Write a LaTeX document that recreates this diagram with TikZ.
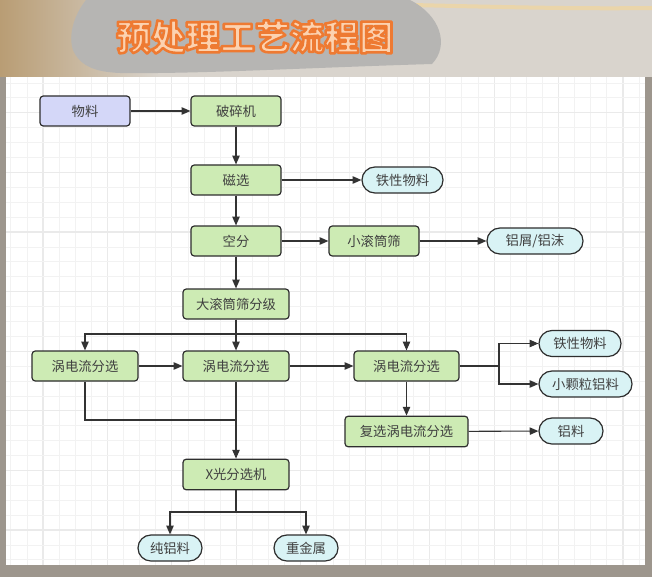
\documentclass[tikz,border=0pt]{standalone}
\usepackage{fontspec}
\setmainfont{Noto Sans CJK SC}
\newfontfamily\cjkf{Noto Sans CJK SC}
\usetikzlibrary{arrows.meta,calc}
\definecolor{bgbrown}{HTML}{9D968D}
\definecolor{bgtop}{HTML}{D9D4CD}
\definecolor{bgleft}{HTML}{B99D74}
\definecolor{brush}{HTML}{B6B5B3}
\definecolor{gminor}{HTML}{F2F2F2}
\definecolor{gmajor}{HTML}{EAEAEA}
\definecolor{gfill}{HTML}{CDEBB4}
\definecolor{lfill}{HTML}{D4D7F8}
\definecolor{cfill}{HTML}{D9F3F5}
\definecolor{bd}{HTML}{2E2E2E}
\definecolor{ln}{HTML}{333333}
\definecolor{tx}{HTML}{404040}
\definecolor{tor}{HTML}{EE7A32}
\definecolor{tpeach}{HTML}{FCD2B0}
\newcommand{\boxfont}{\cjkf\fontsize{10}{12}\selectfont}
\newcommand{\titfont}{\cjkf\bfseries\fontsize{26}{30}\selectfont}
\newcommand{\outlined}[1]{\special{pdf:code q 2 Tr 1.9 w 1 j 0.933 0.478 0.196 RG}#1\special{pdf:code Q}}
\tikzset{
  proc/.style={draw=bd, fill=gfill, rounded corners=2.5pt, line width=0.9pt,
    text=tx, font=\boxfont, inner sep=0pt, minimum height=22.5pt},
  term/.style={draw=bd, fill=cfill, rounded corners=9.7pt, line width=0.9pt,
    text=tx, font=\boxfont, inner sep=0pt, minimum height=19.5pt},
  W/.style={minimum width=#1*0.75pt},
  arr/.style={draw=ln, line width=0.8pt, -{Triangle[length=6.5pt,width=5.5pt]}},
  lin/.style={draw=ln, line width=0.8pt},
}
\begin{document}
\begin{tikzpicture}[x=0.75pt,y=-0.75pt]
\useasboundingbox (0,0) rectangle (652,577);
% background
\fill[bgbrown] (0,0) rectangle (652,577);
\fill[bgtop] (0,0) rectangle (652,77);
\shade[left color=bgleft, right color=bgtop] (0,0) rectangle (160,77);
\draw[line width=3pt, color=white!80!yellow!70!orange, opacity=0.5]
  (180,4) .. controls (350,0) and (500,10) .. (652,8);
\fill[brush] (86,0) -- (410,0) .. controls (440,15) and (450,45) .. (432,64)
  .. controls (300,68) and (200,74) .. (120,73)
  .. controls (95,72) and (80,66) .. (73,50)
  .. controls (68,35) and (74,15) .. (86,0) -- cycle;
% title
\node[font=\titfont, text=tpeach] (title) at (255,37) {\outlined{预处理工艺流程图}};
% panel and grid
\fill[white] (6,77) rectangle (645,565);
\foreach \k in {0,...,39} {
  \pgfmathsetmacro{\xx}{10.8+16.11*\k}
  \pgfmathtruncatemacro{\mm}{mod(\k,4)}
  \ifnum\mm=2 \draw[gmajor, line width=0.8pt] (\xx,77) -- (\xx,565);
  \else \draw[gminor, line width=0.6pt] (\xx,77) -- (\xx,565); \fi
}
\foreach \k in {0,...,32} {
  \pgfmathsetmacro{\yy}{83+14.9*\k}
  \pgfmathtruncatemacro{\mm}{mod(\k,4)}
  \ifnum\mm=2 \draw[gmajor, line width=0.8pt] (6,\yy) -- (645,\yy);
  \else \draw[gminor, line width=0.6pt] (6,\yy) -- (645,\yy); \fi
}
% nodes
\node[proc, fill=lfill, W=90] (wl) at (85,111) {物料};
\node[proc, W=90] (psj) at (236,111) {破碎机};
\node[proc, W=90] (cx) at (236,180) {磁选};
\node[proc, W=90] (kf) at (236,241) {空分};
\node[proc, W=90] (xgt) at (374,241) {小滚筒筛};
\node[term, W=81] (tx1) at (402.5,180) {铁性物料};
\node[term, W=96] (lx) at (535,241) {铝屑/铝沫};
\node[proc, W=106] (dgt) at (236,304) {大滚筒筛分级};
\node[proc, W=106] (wd1) at (85,366) {涡电流分选};
\node[proc, W=106] (wd2) at (236,366) {涡电流分选};
\node[proc, W=105] (wd3) at (406.5,366) {涡电流分选};
\node[proc, W=123, minimum height=23pt] (fx) at (406.5,431.5) {复选涡电流分选};
\node[term, W=82] (tx2) at (580,343.5) {铁性物料};
\node[term, W=93] (xkl) at (585.5,384) {小颗粒铝料};
\node[term, W=64] (ll) at (571,431) {铝料};
\node[proc, W=106, minimum height=23pt] (xg) at (236,474.5) {X光分选机};
\node[term, W=64] (cl) at (170,548) {纯铝料};
\node[term, W=64] (zjs) at (306,548) {重金属};
% junctions
\coordinate (j1) at (236,334);
\coordinate (j2) at (499,366);
\coordinate (j3) at (236,420);
\coordinate (j4) at (236,512);
% connectors
\draw[arr] (wl) -- (psj);
\draw[arr] (psj) -- (cx);
\draw[arr] (cx) -- (tx1);
\draw[arr] (cx) -- (kf);
\draw[arr] (kf) -- (xgt);
\draw[arr] (xgt) -- (lx);
\draw[arr] (kf) -- (dgt);
\draw[arr] (dgt) -- (wd2);
\draw[arr] (j1) -| (wd1.north);
\draw[arr] (j1) -| (wd3.north);
\draw[arr] (wd1) -- (wd2);
\draw[arr] (wd2) -- (wd3);
\draw[lin] (wd3.east) -- (j2);
\draw[arr] (j2) |- (tx2.west);
\draw[arr] (j2) |- (xkl.west);
\draw[arr] (wd3) -- (fx);
\draw[arr] (fx) -- (ll);
\draw[lin] (wd1.south) |- (j3);
\draw[arr] (wd2) -- (xg);
\draw[lin] (xg.south) -- (j4);
\draw[arr] (j4) -| (cl.north);
\draw[arr] (j4) -| (zjs.north);
\end{tikzpicture}
\end{document}
